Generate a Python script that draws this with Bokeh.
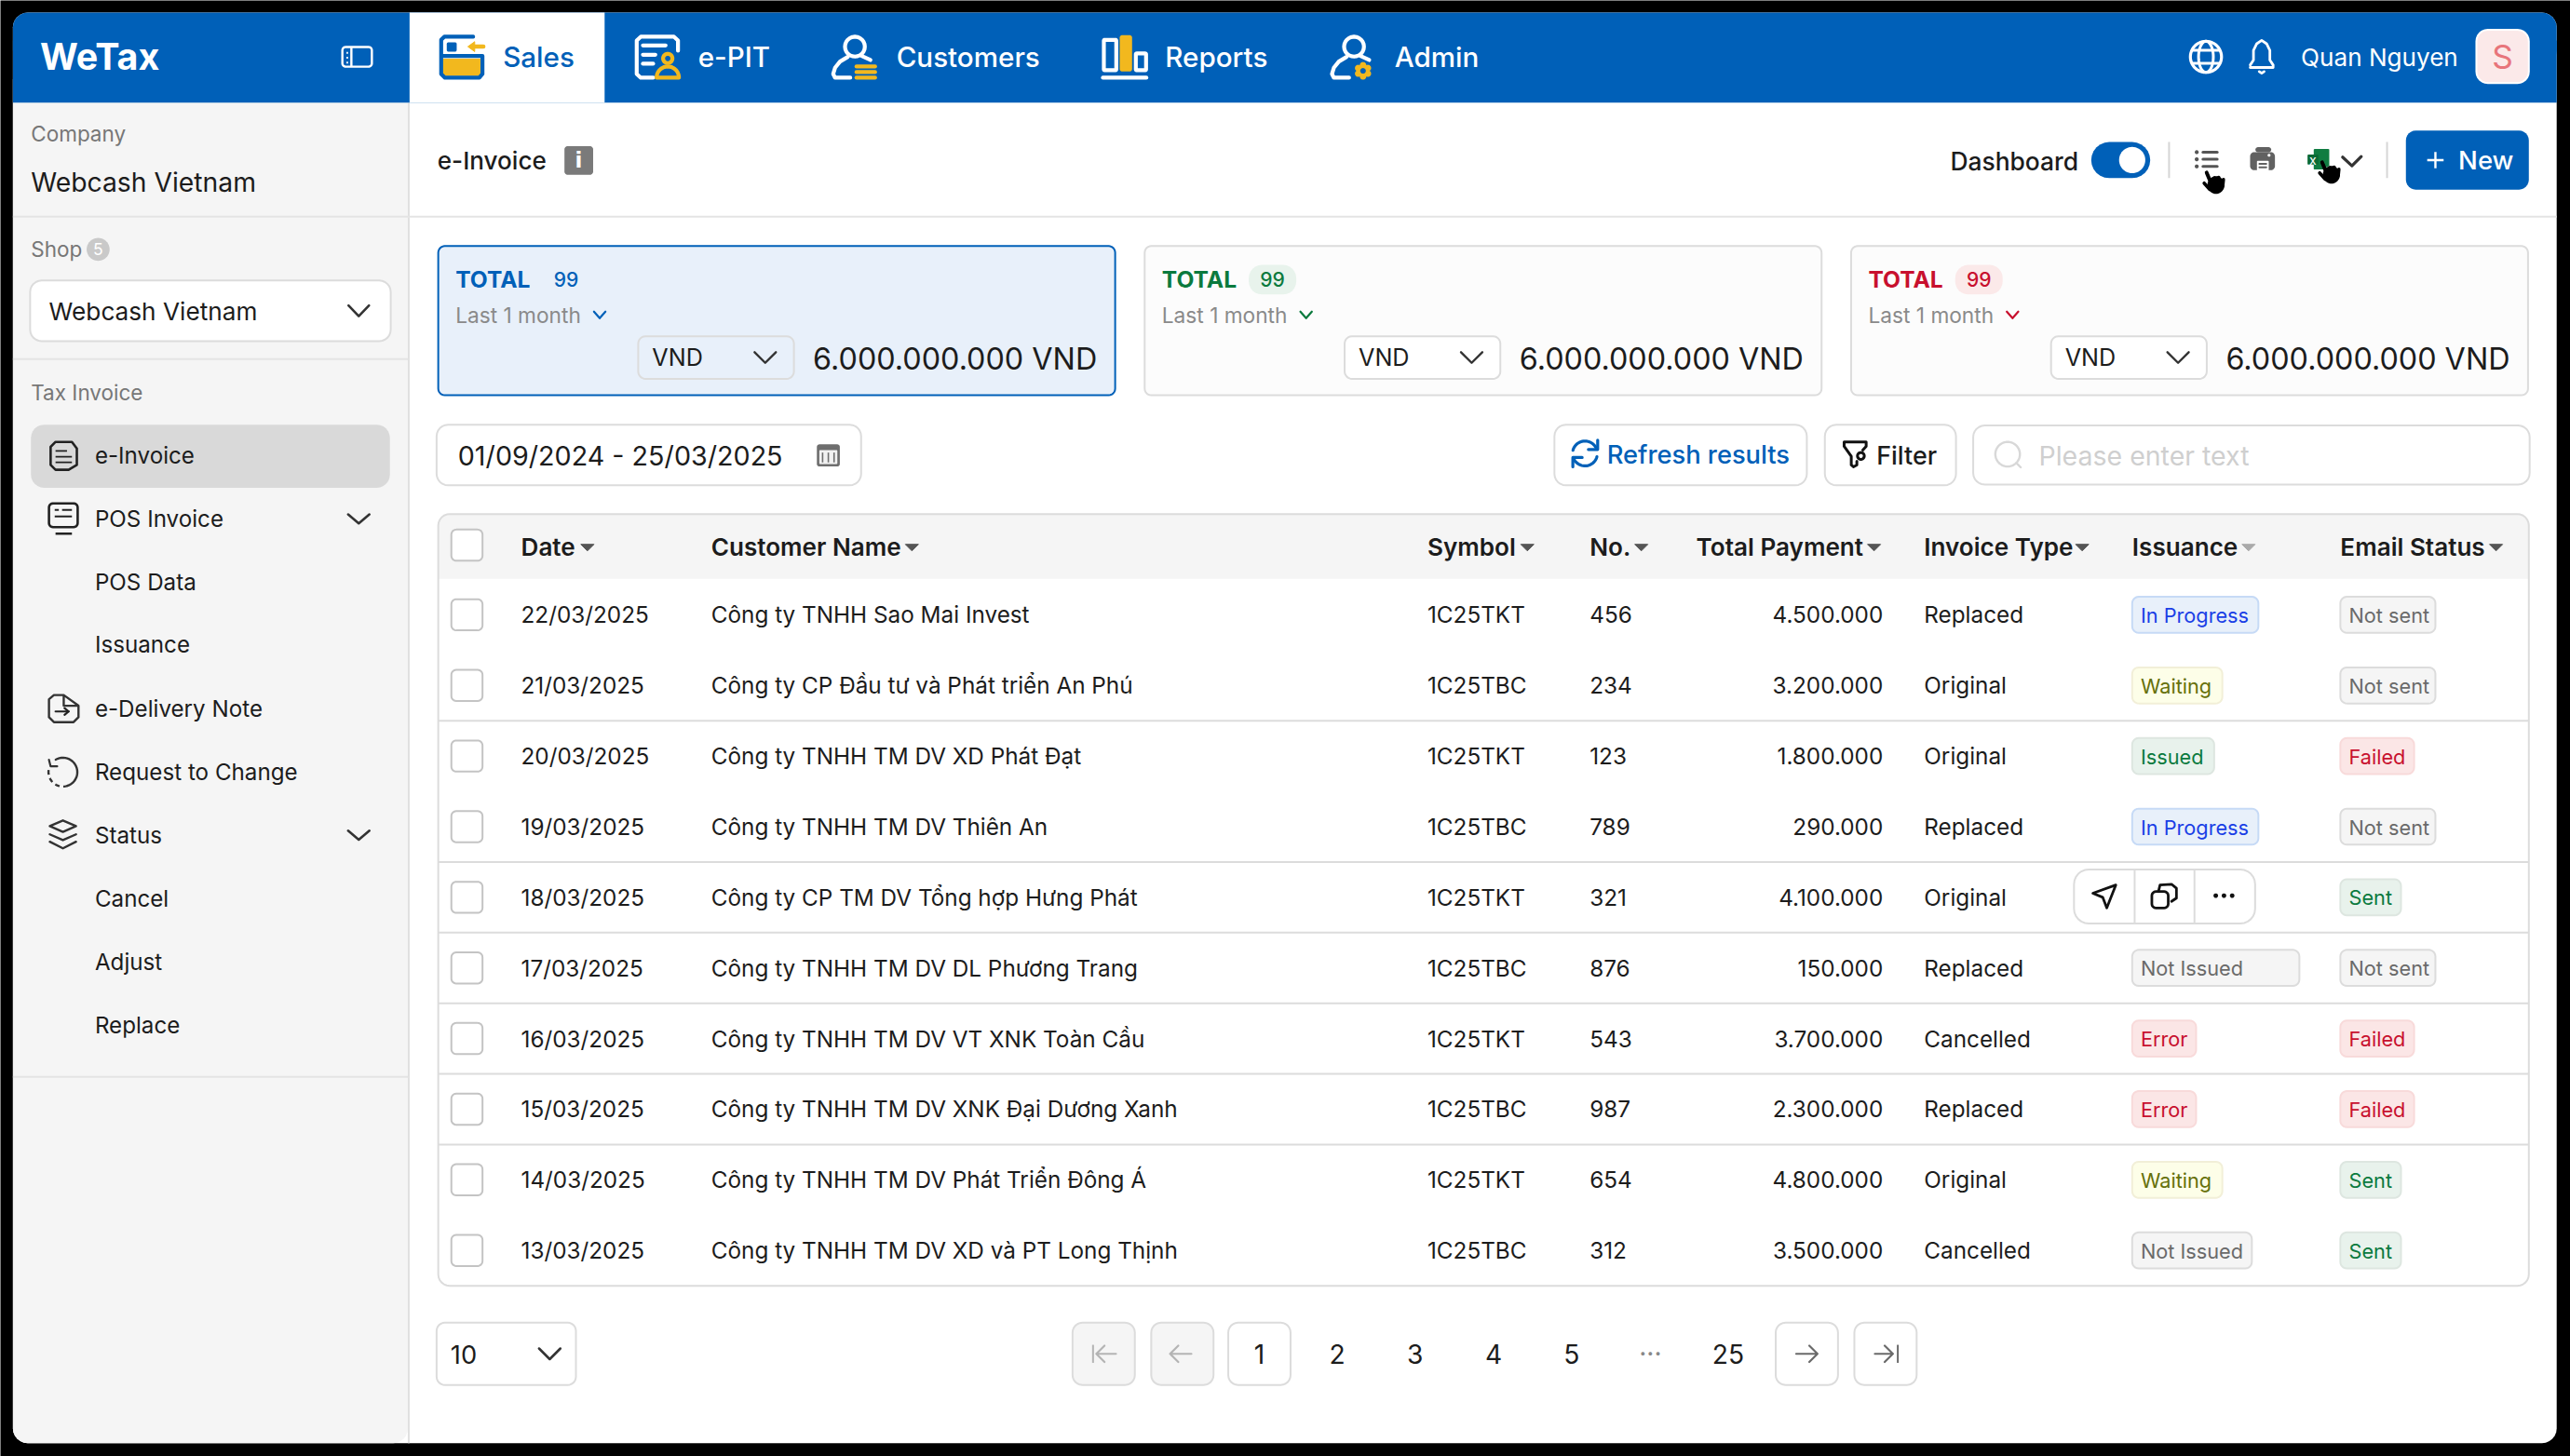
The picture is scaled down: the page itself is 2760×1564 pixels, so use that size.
import math
from bokeh.plotting import figure
from bokeh.models import Range1d
from bokeh.core.properties import value
from bokeh.embed import file_html
from bokeh.resources import INLINE

# ---------- data ----------
dates = ["22/03/2025","21/03/2025","20/03/2025","19/03/2025","18/03/2025","17/03/2025","16/03/2025","15/03/2025","14/03/2025","13/03/2025"]
customers = ["Công ty TNHH Sao Mai Invest","Công ty CP Đầu tư và Phát triển An Phú","Công ty TNHH TM DV XD Phát Đạt",
             "Công ty TNHH TM DV Thiên An","Công ty CP TM DV Tổng hợp Hưng Phát","Công ty TNHH TM DV DL Phương Trang",
             "Công ty TNHH TM DV VT XNK Toàn Cầu","Công ty TNHH TM DV XNK Đại Dương Xanh","Công ty TNHH TM DV Phát Triển Đông Á",
             "Công ty TNHH TM DV XD và PT Long Thịnh"]
symbols = ["1C25TKT","1C25TBC"]*5
numbers = [456,234,123,789,321,876,543,987,654,312]
payments = [4500000,3200000,1800000,290000,4100000,150000,3700000,2300000,4800000,3500000]
invoice_types = ["Replaced","Original","Original","Replaced","Original","Replaced","Cancelled","Replaced","Original","Cancelled"]
issuance = ["In Progress","Waiting","Issued","In Progress",None,"Not Issued","Error","Error","Waiting","Not Issued"]
issuance_w = [77,55,50,77,0,102,39,39,55,73]
email_status = ["Not sent","Not sent","Failed","Not sent","Sent","Not sent","Failed","Failed","Sent","Sent"]
headers = ["Date","Customer Name","Symbol","No.","Total Payment","Invoice Type","Issuance","Email Status"]
menu_items = ["e-Invoice","POS Invoice","POS Data","Issuance","e-Delivery Note","Request to Change","Status","Cancel","Adjust","Replace"]
nav_tabs = ["Sales","e-PIT","Customers","Reports","Admin"]
pages = ["1","2","3","4","5","···","25"]
card_count = ["99","99","99"]

# ---------- canvas ----------
S = 2760/1568
DX,DY = 0.4,0.6
BLUE="#0060B8"; YEL="#F2B81E"; GREEN="#0B7A3E"; RED="#C8102E"; BORDER="#DCDCDC"; INK="#1C1C1C"
p = figure(width=2760, height=1564, output_backend="svg", toolbar_location=None,
           x_range=Range1d(DX, 2760/S+DX), y_range=Range1d(1564/S+DY, DY),
           x_axis_location=None, y_axis_location=None, min_border=0,
           background_fill_color="#000000", border_fill_color="#000000", outline_line_color=None)
p.grid.visible = False

def rr(x0,y0,x1,y1,r=0,fill=None,line=None,lw=2):
    xs,ys=[],[]
    for cx,cy,a0 in ((x1-r,y0+r,-90),(x1-r,y1-r,0),(x0+r,y1-r,90),(x0+r,y0+r,180)):
        for k in range(7):
            a=math.radians(a0+15*k)
            xs.append(cx+r*math.cos(a)); ys.append(cy+r*math.sin(a))
    p.patch(xs,ys,fill_color=fill or "#ffffff",fill_alpha=1 if fill else 0,
            line_color=line or "#ffffff",line_alpha=1 if line else 0,line_width=lw,line_join="round")
def ell(cx,cy,rx,ry=None,fill=None,line=None,lw=2):
    ry=rx if ry is None else ry
    t=[2*math.pi*k/48 for k in range(48)]
    p.patch([cx+rx*math.cos(a) for a in t],[cy+ry*math.sin(a) for a in t],fill_color=fill or "#ffffff",
            fill_alpha=1 if fill else 0,line_color=line or "#ffffff",line_alpha=1 if line else 0,line_width=lw)
def L(xs,ys,c=INK,lw=2,cap="round"):
    p.line(xs,ys,line_color=c,line_width=lw,line_cap=cap,line_join="round")
def poly(xs,ys,fill,line=None,lw=1):
    p.patch(xs,ys,fill_color=fill,line_color=line or fill,line_width=lw,line_join="round")
def T(x,y,s,size=13.8,c=INK,font="Inter",st="normal",a="left"):
    p.text([x],[y],text=[s],text_font=value(font),text_font_size=f"{size*S:.1f}px",text_color=c,
           text_font_style=st,text_align=a,text_baseline="middle")
def chev(cx,cy,w=12,h=6,c="#333333",lw=2.6):
    L([cx-w/2,cx,cx+w/2],[cy-h/2,cy+h/2,cy-h/2],c,lw)
def arc(cx,cy,r,a0,a1,n=24):
    return ([cx+r*math.cos(math.radians(a0+(a1-a0)*k/n)) for k in range(n+1)],
            [cy+r*math.sin(math.radians(a0+(a1-a0)*k/n)) for k in range(n+1)])
def zm(ox,oy,f=3.0):
    """maps pixel positions of a magnified crop onto the design grid"""
    return (lambda x:(ox+x/f)/S),(lambda y:(oy+y/f)/S)
def path(fx,fy,pts,c,lw):
    L([fx(a) for a,b in pts],[fy(b) for a,b in pts],c,lw)

MED="Inter Medium"; SEMI="Inter SemiBold"
PR=1560
# ---------- frame ----------
rr(8,8,PR,881,9,"#FFFFFF")
rr(8,40,249,881,9,"#F5F5F5")
L([249.5,249.5],[63,881],"#E0E0E0",2,"butt")
rr(8,8,PR,40,9,BLUE)
rr(8,25,PR,63,0,BLUE)
rr(250,8,369,63,0,"#FFFFFF")
L([8,PR],[132.5,132.5],"#E4E4E4",2,"butt")
L([8,249],[219.5,219.5],"#E4E4E4",2,"butt")
L([8,249],[657.5,657.5],"#E4E4E4",2,"butt")

# ---------- top bar ----------
T(24.5,35,"WeTax",22.4,"#FFFFFF","Inter","bold")
rr(209,29,227,41,2,None,"#FFFFFF",2.4)
L([214.5,214.5],[29,41],"#FFFFFF",2.4,"butt")
L([211.5,212.5],[32.5,32.5],"#FFFFFF",2,"butt"); L([211.5,212.5],[35.5,35.5],"#FFFFFF",2,"butt"); L([211.5,212.5],[38.5,38.5],"#FFFFFF",2,"butt")

tab_x=[307,426,547,711,851]
for name,x,col in zip(nav_tabs,tab_x,[BLUE]+["#FFFFFF"]*4):
    T(x,35,name,16.8,col,MED)

# Sales icon
fx,fy=zm(460,20)
poly([fx(48),fx(168),fx(168),fx(48)],[fy(132),fy(132),fy(185),fy(185)],YEL)
path(fx,fy,[(145,60),(52,60),(42,70),(42,180),(54,192),(165,192),(175,180),(175,122),(42,122)],BLUE,4.2)
rr(fx(60),fy(78),fx(92),fy(108),1,BLUE)
path(fx,fy,[(145,92),(178,92)],YEL,4.5)
poly([fx(128),fx(150),fx(150)],[fy(92),fy(76),fy(108)],YEL)
# e-PIT icon
path(fx,fy,[(725,192),(685,192),(672,180),(672,72),(685,60),(792,60),(805,72),(805,105)],"#FFFFFF",4.2)
for y,x1 in ((88,765),(118,732),(147,725)):
    path(fx,fy,[(692,y),(x1,y)],"#FFFFFF",4.2)
ell(fx(772),fy(130),15/5.28,15/5.28,None,YEL,4.2)
xa,ya=arc(fx(772),fy(192),36/5.28,180,360)
L(xa+[xa[0]],ya+[ya[0]],YEL,4.2)
# Customers icon (people outline + stripes)
def person(fx,fy,hx,bx):
    xa,ya=arc(fx(hx),fy(92),32/5.28,0,360); L(xa,ya,"#FFFFFF",4.2)
    path(fx,fy,[(bx+55,192),(bx+6,192),(bx,180),(bx+6,160),(bx+22,140),(bx+47,125)],"#FFFFFF",4.2)
    path(fx,fy,[(bx+92,122),(bx+120,135)],"#FFFFFF",4.2)
fx,fy=zm(860,20)
person(fx,fy,175,105)
for y in (156,174,192):
    path(fx,fy,[(180,y),(240,y)],YEL,4.2)
# Reports icon
rr(fx(977),fy(70),fx(1017),fy(168),0.5,None,"#FFFFFF",4.2)
rr(fx(1028),fy(55),fx(1068),fy(172),1.5,YEL)
rr(fx(1080),fy(114),fx(1113),fy(168),0.5,None,"#FFFFFF",4.2)
path(fx,fy,[(974,192),(1114,192)],"#FFFFFF",4.2)
# Admin icon
fx,fy=zm(1340,20)
person(fx,fy,343,272)
gx,gy=fx(372),fy(170)
for k in range(6):
    a=math.radians(60*k+30); ell(gx+3.4*math.cos(a),gy+3.4*math.sin(a),2.0,None,YEL)
ell(gx,gy,3.7,None,YEL); ell(gx,gy,1.7,None,BLUE)

# globe / bell / user
ell(1346,35,9.5,None,None,"#FFFFFF",3.2); ell(1346,35,4.5,9.5,None,"#FFFFFF",3)
L([1337,1355],[31,31],"#FFFFFF",3,"butt"); L([1337,1355],[39,39],"#FFFFFF",3,"butt")
L([1373,1375,1375,1377,1380,1383,1385,1385,1387,1387,1373],[40,37,31,27,25,27,31,37,40,41.5,41.5],"#FFFFFF",2.8)
L([1378.5,1380,1381.5],[44,45,44],"#FFFFFF",2.8)
T(1404,35.5,"Quan Nguyen",14.85,"#FFFFFF")
rr(1511,18.5,1543,51,7,"#FBE9E9","#FFFFFF",2)
T(1527,35,"S",20,"#E8757B",a="center")

# ---------- sidebar ----------
T(19,82,"Company",12.8,"#777777")
T(19,111.5,"Webcash Vietnam",16.05,INK)
T(19,152.5,"Shop",12.8,"#777777")
ell(60,152.5,7,None,"#C9C9C9"); T(60,152.5,"5",10,"#FFFFFF",a="center")
rr(18.5,171.5,238.5,208.5,7,"#FFFFFF",BORDER,2)
T(30,190.5,"Webcash Vietnam",14.9,INK)
chev(219,190,12.5,6.5)
T(19,240,"Tax Invoice",12.8,"#777777")
rr(19,259.5,238,298,8,"#D9D9D9")
menu_y=[278.5,317,355.5,394,433,471.5,510,549,587.5,626]
for name,y in zip(menu_items,menu_y):
    T(58,y,name,13.75,INK)
chev(219,317,13,5.5); chev(219,510,13,5.5)
# e-invoice icon
ic="#222222"
L([31,31,34,42,47,47,44,34,31],[273,284,287,287,284,274,270,270,273],ic,2.6)
for y,(a,b) in ((275.5,(34,41)),(279,(34,44)),(282.5,(34,44))):
    L([a,b],[y,y],ic,1.8,"butt")
# POS icon
rr(30,307.5,47.5,322,2.5,None,ic,2.6)
L([33.5,36],[311.5,311.5],ic,2,"butt"); L([38,44],[311.5,311.5],ic,2,"butt"); L([33.5,44],[315.5,315.5],ic,2,"butt"); L([34,44],[326,326],ic,2.4,"butt")
# delivery icon
L([39,33,30,30,33,45,48,48,39,39,48],[424.5,424.5,427,438,441,441,438,431,424.5,431,431],"#333333",2.4)
L([34,42],[434.5,434.5],ic,2.2); L([39.5,42,39.5],[432.5,434.5,436.5],ic,2.2)
# request icon
xa,ya=arc(38.5,471.5,8.8,-120,70); L(xa,ya,"#333333",2.4)
p.line(*arc(38.5,471.5,8.8,70,200),line_color="#333333",line_width=2.4,line_dash=[5,4])
L([30,31,35],[464,468,468],"#333333",2.2)
# layers icon
poly([30.5,38.5,46.5,38.5],[504.5,501,504.5,508],"#F5F5F5","#333333",2.4)
L([30.5,38.5,46.5],[509.5,513,509.5],"#333333",2.4); L([30.5,38.5,46.5],[514,518,514],"#333333",2.4)

# ---------- sub-header ----------
T(267,98.5,"e-Invoice",14.8,INK,MED)
rr(344.5,89.5,362,107,2,"#7A7A7A")
T(353.2,98.2,"i",13,"#FFFFFF","DejaVu Sans","bold","center")
T(1190,98.5,"Dashboard",15,INK,MED)
rr(1276,87,1312,109,11,BLUE); ell(1301,98,8,8,"#FFFFFF")
L([1323.5,1323.5],[87,109],"#D6D6D6",2,"butt"); L([1456.5,1456.5],[87,109],"#D6D6D6",2,"butt")
fx,fy=zm(2310,140)
ig="#555555"
for y in (72,95,118):
    ell(fx(148),fy(y),1.2,None,ig); path(fx,fy,[(168,y),(214,y)],ig,3)
rr(fx(320),fy(72),fx(400),fy(130),2.5,"#616161"); rr(fx(337),fy(56),fx(388),fy(72),1.5,"#616161")
rr(fx(342),fy(100),fx(380),fy(132),0.5,"#FFFFFF")
path(fx,fy,[(350,110),(372,110)],"#616161",2); path(fx,fy,[(350,121),(372,121)],"#616161",2)
ell(fx(381),fy(82),0.9,None,"#FFFFFF")
rr(fx(525),fy(62),fx(575),fy(128),0.5,"#107C41"); rr(fx(505),fy(80),fx(540),fy(112),0.5,"#0B6A35")
T(fx(522),fy(96),"x",8,"#FFFFFF",a="center")
path(fx,fy,[(618,88),(648,116),(678,86)],"#333333",3.2)
def hand(dx,dy):
    ell(fx(212+dx),fy(186+dy),7,None,"#FFFFFF")
    ell(fx(210+dx),fy(178+dy),5.2,5.4,"#000000")
    path(fx,fy,[(180+dx,138+dy),(196+dx,176+dy)],"#000000",4)
    path(fx,fy,[(205+dx,155+dy),(208+dx,176+dy)],"#000000",3.6)
    path(fx,fy,[(219+dx,153+dy),(222+dx,176+dy)],"#000000",3.6)
    path(fx,fy,[(234+dx,160+dy),(232+dx,180+dy)],"#000000",3.6)
    path(fx,fy,[(172+dx,172+dy),(190+dx,192+dy)],"#000000",3.6)
hand(0,0); hand(372,-33)
rr(1468,80,1543,116,6,BLUE)
L([1481,1491],[98,98],"#FFFFFF",2.4,"butt"); L([1486,1486],[93,103],"#FFFFFF",2.4,"butt")
T(1500,98,"New",15.6,"#FFFFFF",MED)

# ---------- summary cards ----------
card_x=[267,698,1129]
card_fill=["#E8F0FA","#FCFCFC","#FCFCFC"]
card_line=[BLUE,BORDER,BORDER]
card_col=[BLUE,GREEN,RED]
pill_fill=["#E8F0FA","#E8F3EC","#FBE9E9"]
for x,f,l,c,pf,n in zip(card_x,card_fill,card_line,card_col,pill_fill,card_count):
    rr(x+.5,150.5,x+413.5,241.5,4,f,l,2)
    T(x+11,171,"TOTAL",14,c,"Inter","bold")
    rr(x+64,162,x+93,180,8,pf)
    T(x+78.5,171,n,12,c,MED,a="center")
    T(x+11,192.5,"Last 1 month",12.9,"#8A8A8A")
    chev(x+99,192.5,7,4,c,2.2)
    rr(x+122.5,205.5,x+217.5,231.5,4.5,f if f!="#FCFCFC" else "#FFFFFF",BORDER,2)
    T(x+131,218.5,"VND",14.3,INK)
    chev(x+200,218.5,13,6.5,"#333333",2.4)
    T(x+402.5,219.5,"6.000.000.000 VND",18.35,INK,a="right")

# ---------- filter bar ----------
rr(266.5,259.5,525.5,296.5,7,"#FFFFFF",BORDER,2)
T(279.5,278.5,"01/09/2024 - 25/03/2025",16.3,INK)
rr(498.5,271.5,512.5,285,1.5,"#6E6E6E"); rr(500,275,511,283.5,0.5,"#F2F2F2")
for a in (502,505.5,509):
    L([a,a],[276.5,282.5],"#6E6E6E",1.6,"butt")
rr(948.5,259.5,1102.5,296.5,7,"#FFFFFF",BORDER,2)
fx,fy=zm(1660,450)
xa,ya=arc(fx(127),fy(113),40/5.28,-165,-30); L(xa,ya,BLUE,3.2)
xa,ya=arc(fx(127),fy(113),40/5.28,15,150); L(xa,ya,BLUE,3.2)
path(fx,fy,[(168,70),(168,100),(138,100)],BLUE,3.2)
path(fx,fy,[(88,156),(88,126),(118,126)],BLUE,3.2)
T(980.5,278,"Refresh results",15.5,BLUE,MED)
rr(1113.5,259.5,1193.5,296.5,7,"#FFFFFF",BORDER,2)
path(fx,fy,[(1003,138),(1003,150),(992,156),(985,150),(985,122),(962,90),(962,76),(1033,76),(1033,90),(1022,102)],"#111111",3)
ell(fx(1016),fy(121),11/5.28,None,None,"#111111",3)
T(1145,278,"Filter",15.3,INK,MED)
rr(1204,260,1543.5,296,7,"#FFFFFF",BORDER,2)
ell(1225,277.5,7.5,None,None,"#D8D8D8",2.4); L([1230.5,1233],[283,285.5],"#D8D8D8",2.4)
T(1244,278.5,"Please enter text",16.2,"#CFCFCF")

# ---------- table ----------
X0,X1=267.5,1543
rr(X0,314,X1,335,7,"#F5F5F5"); rr(X0,325,X1,353.5,0,"#F5F5F5")
rr(X0,314,X1,785,7,None,BORDER,2)
col_x=[318,434,871,970,1035,1174,1301,1428]
caret_x=[358.5,556.5,932,1001.5,1143.5,1270.5,1372,1523]
caret_c=["#555555"]*6+["#AAAAAA","#555555"]
for h,x,cx,cc in zip(headers,col_x,caret_x,caret_c):
    T(x,334,h,14.8,INK,SEMI)
    poly([cx-4,cx+4,cx],[332.5,332.5,336.5],cc)
rr(275.5,323.5,294.5,342.5,3,"#FFFFFF","#C4C4C4",2)

row_step=43.1
row_y=[375.5+row_step*i for i in range(len(dates))]
for i in (1,3,4,5,6,7):
    y=(row_y[i]+row_y[i+1])/2
    L([X0,X1],[y,y],BORDER,2,"butt")

badge_style={"In Progress":("#E8F0FA","#C6DAF6","#1A3FE6"),
             "Waiting":("#FDFEE8","#F2EFD8","#66700A"),
             "Issued":("#E8F2EC","#DDE6E0",GREEN),
             "Sent":("#E8F2EC","#DDE6E0",GREEN),
             "Failed":("#FBE6E6","#F8DADA",RED),
             "Error":("#FBE6E6","#F8DADA",RED),
             "Not sent":("#F5F5F5","#DCDCDC","#6A6A6A"),
             "Not Issued":("#F5F5F5","#DCDCDC","#6A6A6A")}
email_w={"Not sent":58,"Failed":45,"Sent":37}
def badge(x,y,w,s):
    f,l,c=badge_style[s]
    rr(x,y-11,x+w,y+11,4,f,l,2)
    T(x+5.2,y+.3,s,12.3,c)

for i,y in enumerate(row_y):
    rr(275.5,y-9.5,294.5,y+9.5,3,"#FFFFFF","#C4C4C4",2)
    T(col_x[0],y,dates[i])
    T(col_x[1],y,customers[i])
    T(col_x[2],y,symbols[i])
    T(col_x[3],y,str(numbers[i]))
    T(1149,y,f"{payments[i]:,}".replace(",","."),a="right")
    T(col_x[5],y,invoice_types[i])
    if issuance[i]:
        badge(col_x[6],y,issuance_w[i],issuance[i])
    badge(col_x[7],y,email_w[email_status[i]],email_status[i])

# action group on the hovered row
ay=row_y[4]-.5
rr(1265.5,ay-16.5,1376,ay+16.5,9,"#FFFFFF",BORDER,2)
L([1302.5,1302.5],[ay-16.5,ay+16.5],BORDER,2,"butt"); L([1339,1339],[ay-16.5,ay+16.5],BORDER,2,"butt")
L([1291,1277,1283,1285.5,1291],[ay-7,ay-2,ay+.5,ay+7,ay-7],"#111111",2.8)
rr(1313,ay-3,1323,ay+7,2.5,"#FFFFFF","#111111",2.8)
L([1317,1318,1325,1328,1328,1325],[ay-3,ay-7,ay-7.5,ay-5,ay+1,ay+3],"#111111",2.8)
for dx in (-5,0,5):
    ell(1357+dx,ay-.5,1.4,None,"#111111")

# ---------- pagination ----------
rr(266.5,807.5,351.5,845.5,5,"#FFFFFF",BORDER,2)
T(275,827,"10",15.5,INK)
chev(335.5,826.5,13,6.5)
btn_x=[654,702,1083,1131]
btn_fill=["#F5F5F5","#F5F5F5","#FFFFFF","#FFFFFF"]
for x,f in zip(btn_x,btn_fill):
    rr(x+.5,807.5,x+38.5,845.5,6,f,BORDER,2)
rr(749.5,807.5,787.5,845.5,6,"#FFFFFF",BORDER,2)
page_x=[768.5,816,863.5,911.5,959,1007,1054.5]
for s,x in zip(pages,page_x):
    T(x,826.5,s,16,"#888888" if s=="···" else INK,a="center")
dis="#B4B4B4"; en="#6A6A6A"
L([667,667],[821,832],dis,2,"butt"); L([681,669,674,669,674],[826.5,826.5,821.5,826.5,831.5],dis,2.2)
L([727,714,719,714,719],[826.5,826.5,821.5,826.5,831.5],dis,2.2)
L([1096,1109,1104,1109,1104],[826.5,826.5,821.5,826.5,831.5],en,2.2)
L([1144,1155,1150,1155,1150],[826.5,826.5,821.5,826.5,831.5],en,2.2); L([1158,1158],[821,832],en,2,"butt")

open("out.html","w").write(file_html(p, INLINE))
